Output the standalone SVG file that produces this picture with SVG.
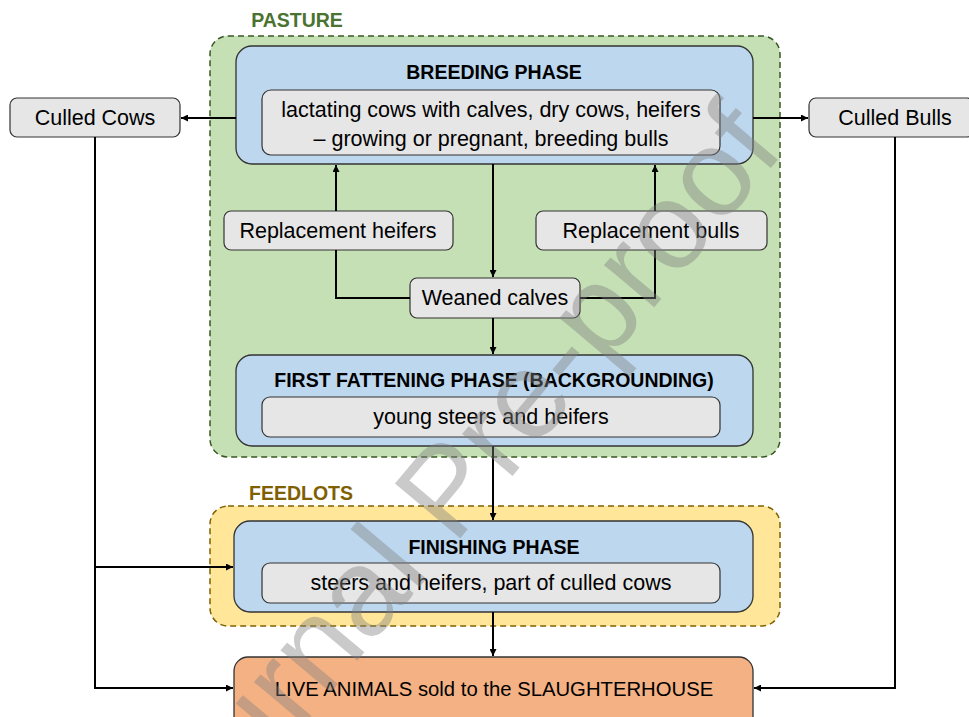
<svg xmlns="http://www.w3.org/2000/svg" width="969" height="717" viewBox="0 0 969 717">
<defs>
<marker id="ah" viewBox="0 0 10 10" refX="10" refY="5" markerWidth="8" markerHeight="7" markerUnits="userSpaceOnUse" orient="auto">
<path d="M0,0 L10,5 L0,10 z" fill="#000"/>
</marker>
<style>
.t{font-family:"Liberation Sans",Arial,sans-serif;font-size:21.5px;fill:#000;text-anchor:middle;dominant-baseline:central}
.b{font-weight:bold;font-size:19.5px}
.phase{fill:#bdd7ee;stroke:#333;stroke-width:1.3}
.inner{fill:#e6e6e6;stroke:#333;stroke-width:1.2}
.side{fill:#e6e6e6;stroke:#333;stroke-width:1.2}
.c{fill:none;stroke:#000;stroke-width:2}
.ca{fill:none;stroke:#000;stroke-width:2;marker-end:url(#ah)}
</style>
</defs>
<rect width="969" height="717" fill="#fff"/>

<g id="pasture">
<rect x="210" y="36" width="570" height="421" rx="18" fill="#c5e0b4" stroke="#385723" stroke-width="1.5" stroke-dasharray="6 4"/>
<text class="t b" x="297" y="20" style="fill:#4a7332">PASTURE</text>
</g>
<g id="feedlots">
<rect x="210" y="506" width="570" height="120" rx="18" fill="#ffe699" stroke="#7f6000" stroke-width="1.5" stroke-dasharray="6 4"/>
<text class="t b" x="301" y="493" style="fill:#7f6000">FEEDLOTS</text>
</g>

<g id="breeding">
<rect class="phase" x="236" y="46" width="517" height="118" rx="16"/>
<text class="t b" x="494" y="72">BREEDING PHASE</text>
<rect class="inner" x="262" y="90" width="458" height="65" rx="9"/>
<text class="t" x="491" y="110">lactating cows with calves, dry cows, heifers</text>
<text class="t" x="491" y="139">– growing or pregnant, breeding bulls</text>
</g>

<g id="culled-cows">
<rect class="side" x="10" y="98" width="170" height="39" rx="7"/>
<text class="t" x="95" y="118">Culled Cows</text>
</g>
<g id="culled-bulls">
<rect class="side" x="809" y="98" width="165" height="39" rx="7"/>
<text class="t" x="895" y="118">Culled Bulls</text>
</g>

<g id="replacement-heifers">
<rect class="side" x="224" y="211" width="229" height="39" rx="7"/>
<text class="t" x="338" y="231">Replacement heifers</text>
</g>
<g id="replacement-bulls">
<rect class="side" x="536" y="211" width="231" height="39" rx="7"/>
<text class="t" x="651" y="231">Replacement bulls</text>
</g>
<g id="weaned-calves">
<rect class="side" x="410" y="278" width="170" height="40" rx="7"/>
<text class="t" x="495" y="298">Weaned calves</text>
</g>

<g id="first-fattening">
<rect class="phase" x="236" y="355" width="517" height="91" rx="16"/>
<text class="t b" x="494" y="380">FIRST FATTENING PHASE (BACKGROUNDING)</text>
<rect class="inner" x="262" y="397" width="458" height="40" rx="8"/>
<text class="t" x="491" y="417">young steers and heifers</text>
</g>

<g id="finishing">
<rect class="phase" x="234" y="521" width="519" height="91" rx="16"/>
<text class="t b" x="494" y="547">FINISHING PHASE</text>
<rect class="inner" x="262" y="563" width="458" height="40" rx="8"/>
<text class="t" x="491" y="583">steers and heifers, part of culled cows</text>
</g>

<g id="slaughterhouse">
<rect x="234" y="657" width="519" height="80" rx="14" fill="#f4b183" stroke="#333" stroke-width="1.3"/>
<text class="t" x="494" y="689" style="font-size:20.3px">LIVE ANIMALS sold to the SLAUGHTERHOUSE</text>
</g>

<g id="connectors">
<path class="ca" d="M236,118 H181"/>
<path class="ca" d="M753,118 H808"/>
<path class="ca" d="M493,164 V277"/>
<path class="ca" d="M336,211 V165"/>
<path class="ca" d="M655,211 V165"/>
<path class="c" d="M410,298 H336 V250"/>
<path class="c" d="M580,298 H655 V250"/>
<path class="ca" d="M493,318 V354"/>
<path class="ca" d="M493,446 V520"/>
<path class="ca" d="M493,612 V656"/>
<path class="ca" d="M95,137 V688 H233"/>
<path class="ca" d="M95,567 H233"/>
<path class="ca" d="M895,137 V688 H754"/>
</g>

<text x="786" y="150" transform="rotate(-50 786 150)" text-anchor="end" font-family="Liberation Sans, Arial, sans-serif" font-size="124" fill="#808080" fill-opacity="0.42">Journal Pre-proof</text>
</svg>
